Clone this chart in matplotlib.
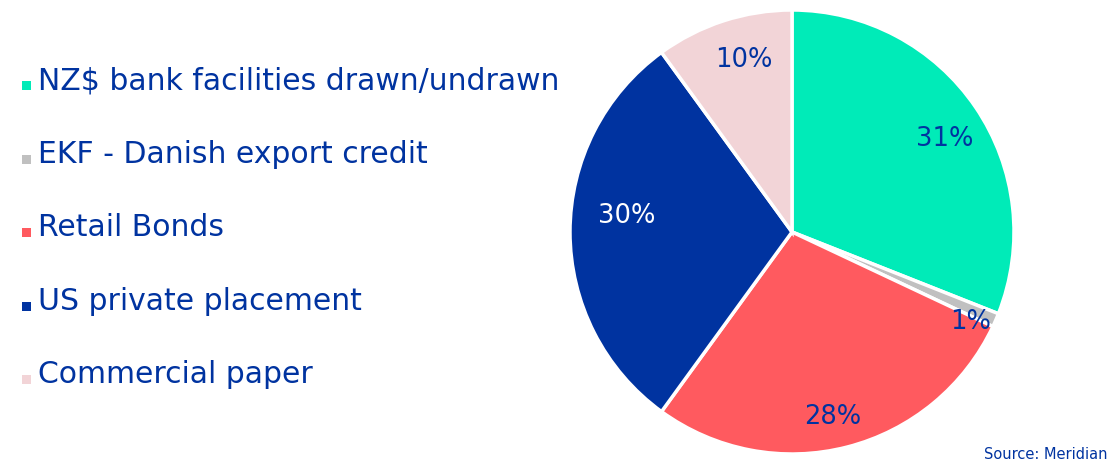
import matplotlib
matplotlib.use('Agg')
import matplotlib.pyplot as plt
from matplotlib.patches import Rectangle
import numpy as np

# funding sources
labels = ['NZ$ bank facilities drawn/undrawn', 'EKF - Danish export credit',
          'Retail Bonds', 'US private placement', 'Commercial paper']
shares = [31, 1, 28, 30, 10]
colors = ['#00EBB8', '#C0C0C0', '#FF5A5F', '#0033A0', '#F2D4D7']

navy = '#0033A0'
# label placement tweaks: radial distance, angle shift (deg), text colour
pct_dist = [0.81, 0.9, 0.85, 0.75, 0.81]
pct_shift = [-2.5, -3, -2, -6, -2.5]
pct_color = [navy, navy, navy, 'white', navy]

plt.rcParams['font.family'] = ['DejaVu Sans']

fig = plt.figure(figsize=(11.14, 4.64), dpi=100)
W, H = 1114, 464
cx, cy, r = 792, 233, 222
ax = fig.add_axes([(cx - r) / W, (H - cy - r) / H, 2 * r / W, 2 * r / H])

wedges, _ = ax.pie(shares, colors=colors, startangle=90, counterclock=False,
                   radius=1, wedgeprops=dict(edgecolor='white', linewidth=2.5))
ax.set_xlim(-1, 1)
ax.set_ylim(-1, 1)
ax.set_aspect('equal')
ax.axis('off')

# percentage labels
for w, v, d, s, tc in zip(wedges, shares, pct_dist, pct_shift, pct_color):
    ang = np.deg2rad((w.theta1 + w.theta2) / 2 + s)
    ax.text(d * np.cos(ang), d * np.sin(ang), f'{v}%', ha='center', va='center',
            fontsize=18.5, color=tc)

# legend (left side)
y0, step = 81, 73.5
for i, (lab, c) in enumerate(zip(labels, colors)):
    y = y0 + i * step
    fig.text(38 / W, 1 - y / H, lab, ha='left', va='center', fontsize=21.5, color=navy)
    fig.add_artist(Rectangle((22 / W, 1 - (y + 10) / H), 9 / W, 9 / H,
                             transform=fig.transFigure, facecolor=c, edgecolor='none'))

fig.text(1108 / W, 1 - 462 / H, 'Source: Meridian', ha='right', va='bottom',
         fontsize=10.5, color=navy)

fig.savefig('out.png', dpi=100)
